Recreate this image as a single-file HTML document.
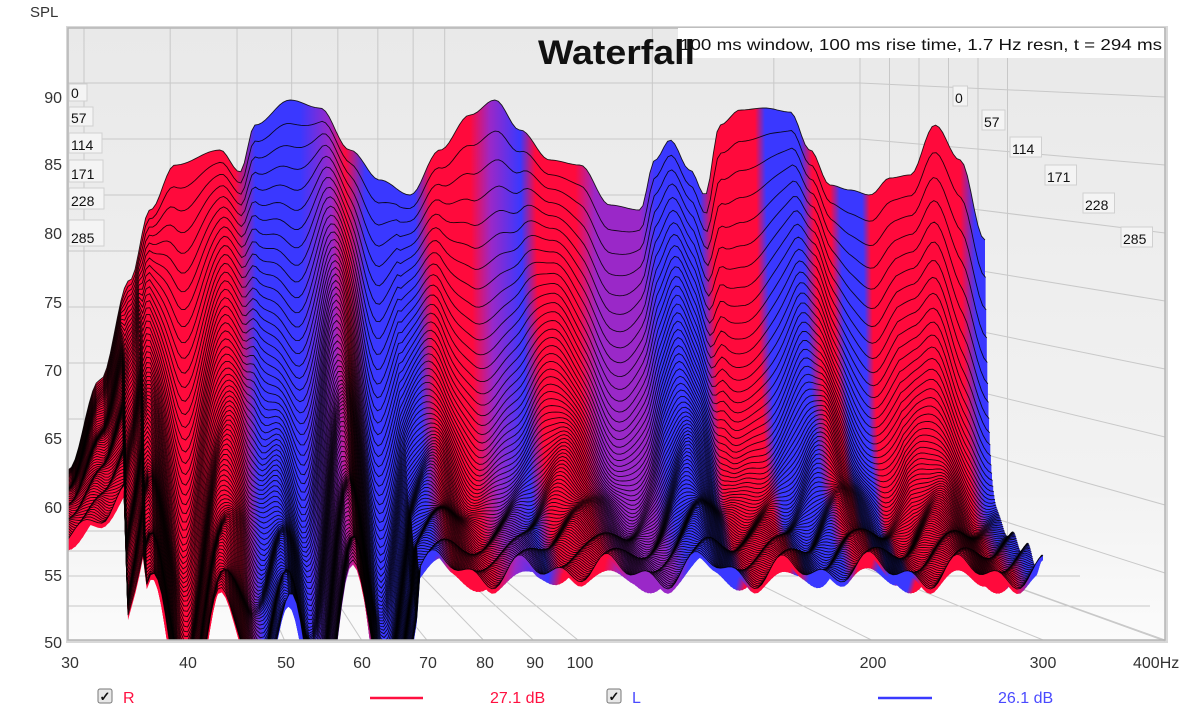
<!DOCTYPE html>
<html><head><meta charset="utf-8">
<style>
html,body{margin:0;padding:0;background:#fff;}
body{width:1200px;height:719px;overflow:hidden;font-family:"Liberation Sans",sans-serif;}
</style></head>
<body>
<svg id="s" width="1200" height="719" xmlns="http://www.w3.org/2000/svg" style="position:absolute;left:0;top:0">
<defs>
<linearGradient id="bg" x1="0" y1="0" x2="0" y2="1">
<stop offset="0" stop-color="#e9e9e9"/><stop offset="0.75" stop-color="#f2f2f2"/><stop offset="1" stop-color="#fbfbfb"/>
</linearGradient>
<clipPath id="pc"><rect x="68" y="28" width="1097" height="612"/></clipPath>
</defs>
<rect x="66" y="26" width="1102" height="617" fill="#d8d8d8"/>
<rect x="68" y="28" width="1097" height="612" fill="url(#bg)"/>
<g id="grid" stroke="#c8c8c8" stroke-width="1" fill="none"></g>
<g id="wf" clip-path="url(#pc)"></g>
<rect x="68" y="28" width="1097" height="612" fill="none" stroke="#b5b5b5" stroke-width="1.5"/>
<g id="lab" font-family="Liberation Sans, sans-serif"></g>
</svg>
<script>
(function(){
var NS="http://www.w3.org/2000/svg";
function el(n,a,p){var e=document.createElementNS(NS,n);for(var k in a)e.setAttribute(k,a[k]);if(p)p.appendChild(e);return e;}
var L30_400=Math.log(400/30);
var grid=document.getElementById('grid');
var freqs=[40,50,60,70,80,90,100,200,300];
for(var i=0;i<freqs.length;i++){
 var fr=Math.log(freqs[i]/30)/L30_400;
 var xb=84+fr*776, xf=68+fr*1097;
 el('line',{x1:xb,y1:28,x2:xb,y2:531},grid);
 el('line',{x1:xb,y1:531,x2:xf,y2:640},grid);
}
el('line',{x1:84,y1:28,x2:84,y2:531},grid);
el('line',{x1:860,y1:28,x2:860,y2:531},grid);
el('line',{x1:860,y1:531,x2:1165,y2:640},grid);
for(var k=0;k<9;k++){
 var yb=83+56*k, yf=97+68*k;
 el('line',{x1:68,y1:yb,x2:860,y2:yb},grid);
 el('line',{x1:860,y1:yb,x2:1165,y2:yf},grid);
}
for(var k=1;k<6;k++){
 var xs=860+k*29.5;
 var t=(xs-860)/305;
 el('line',{x1:xs,y1:28,x2:xs,y2:531+109*t},grid);
}
[[551,868],[576,930],[606,1000]].forEach(function(p){el('line',{x1:68,y1:p[0],x2:p[1]+150,y2:p[0]},grid);});

var env=[[68,470],[100,380],[130,280],[150,210],[175,165],[220,150],[240,172],[255,125],[290,100],[320,108],[350,150],[380,180],[410,195],[440,150],[470,115],[495,100],[520,130],[550,160],[580,165],[610,205],[640,210],[655,160],[670,140],[690,170],[705,195],[720,125],[740,110],[765,108],[790,112],[810,150],[830,185],[850,190],[870,195],[890,178],[910,175],[935,125],[960,160],[985,240]];
function D0(g){var x=68+g*917;
 for(var i=0;i<env.length-1;i++){if(x<=env[i+1][0]){var a=env[i],b=env[i+1];var u=(x-a[0])/(b[0]-a[0]);u=(1-Math.cos(Math.PI*u))/2;var y=a[1]+(b[1]-a[1])*u;return 50+(531-y)/11.2;}}
 return 50+(531-240)/11.2;}
function F(g){if(g<0.06)return 53;if(g<0.36)return 44+5*Math.sin(g*90);return 51+0.8*Math.sin(g*70);}
function R(g){var r;if(g<0.08)r=0.9;else if(g<0.36)r=2.2+0.8*Math.sin(g*60);else r=3.6+1.2*Math.sin(g*45);if(g>0.9)r+= (g-0.9)*40;return r;}
var R_="#ff0a3c",B_="#3a38ff",P_="#9a28c8";
var bands=[[68,R_],[235,R_],[255,B_],[300,B_],[330,P_],[345,R_],[365,B_],[415,B_],[430,R_],[470,R_],[490,P_],[520,B_],[535,R_],[575,R_],[595,P_],[640,P_],[655,B_],[700,B_],[712,R_],[755,R_],[765,B_],[800,B_],[812,R_],[830,R_],[840,B_],[862,B_],[870,R_],[960,R_],[975,B_],[985,B_]];
var wf=document.getElementById('wf');
var defs=document.querySelector('defs');
var N=100,M=260;
for(var s=0;s<N;s++){
 var t=s/(N-1);
 var TH=40*(1-t)+5;
 var W=917+58*t, Y0=531+55*t, sc=11.2+2.4*t;
 var gid='g'+s;
 var lg=el('linearGradient',{id:gid,gradientUnits:'userSpaceOnUse',x1:68,y1:0,x2:68+W,y2:0},defs);
 bands.forEach(function(b){el('stop',{offset:((b[0]-68)/917).toFixed(4),'stop-color':b[1]},lg);});
 var pts=[];
 for(var j=0;j<=M;j++){
  var g=j/M;
  var f=F(g), d0=D0(g);
  var v=f+(d0-f)*Math.exp(-R(g)*t*1.7)+1.3*t*Math.sin(g*140+t*25)*(1-0.5*t);
  if(v<40)v=40;
  pts.push([68+g*W, Y0-(v-50)*sc]);
 }
 var top='M'+pts[0][0].toFixed(1)+','+pts[0][1].toFixed(1);
 for(var j=1;j<pts.length;j++)top+=' L'+pts[j][0].toFixed(1)+','+pts[j][1].toFixed(1);
 var d=top;
 for(var j=pts.length-1;j>=0;j--)d+=' L'+pts[j][0].toFixed(1)+','+(pts[j][1]+TH).toFixed(1);
 d+=' Z';
 el('path',{d:d,fill:'url(#'+gid+')',stroke:'none'},wf);
 el('path',{d:top,fill:'none',stroke:'#000','stroke-width':'0.9','stroke-opacity':'0.85'},wf);
}
var lab=document.getElementById('lab');
function txt(x,y,s,o){var a={x:x,y:y,'font-size':o&&o.fs||15,fill:o&&o.fill||'#222'};if(o&&o.anchor)a['text-anchor']=o.anchor;if(o&&o.fw)a['font-weight']=o.fw;if(o&&o.tl){a.textLength=o.tl;a.lengthAdjust='spacingAndGlyphs';}var e=el('text',a,lab);e.textContent=s;return e;}
txt(30,17,'SPL',{fs:15,fill:'#333'});
var yl=[[90,103],[85,170],[80,239],[75,308],[70,376],[65,444],[60,513],[55,581],[50,648]];
yl.forEach(function(p){txt(62,p[1],String(p[0]),{anchor:'end',fs:16,fill:'#333'});});
var xl=[[30,70],[40,188],[50,286],[60,362],[70,428],[80,485],[90,535],[100,580],[200,873],[300,1043]];
xl.forEach(function(p){txt(p[1],668,String(p[0]),{anchor:'middle',fs:16,fill:'#333'});});
txt(1133,668,'400Hz',{fs:16,fill:'#333'});
function box(x,y,w,h,s){el('rect',{x:x,y:y,width:w,height:h,fill:'#f4f4f4',stroke:'#d0d0d0'},lab);txt(x+2,y+h-3,s,{fs:14,fill:'#111'});}
var lt=[['0',84,18,17],['57',107,24,19],['114',133,33,20],['171',160,34,22],['228',188,35,21],['285',220,35,26]];
lt.forEach(function(p){box(69,p[1],p[2],p[3],p[0]);});
var rt=[['0',953,86],['57',982,110],['114',1010,137],['171',1045,165],['228',1083,193],['285',1121,227]];
rt.forEach(function(p){box(p[1],p[2],p[0].length*8.5+6,20,p[0]);});
el('rect',{x:678,y:28,width:486,height:30,fill:'#fff'},lab);
txt(680,50,'100 ms window, 100 ms rise time,  1.7 Hz resn, t = 294 ms',{fs:16,fill:'#111',tl:482});
txt(538,64,'Waterfall',{fs:34,fw:'bold',fill:'#111',tl:157});
function cb(x,y){el('rect',{x:x,y:y,width:14,height:14,rx:2,fill:'#e8e8e8',stroke:'#777'},lab);txt(x+1.5,y+12,'✓',{fs:13,fw:'bold',fill:'#111'});}
cb(98,689);txt(123,703,'R',{fs:16,fill:'#ff1040'});
el('line',{x1:370,y1:698,x2:423,y2:698,stroke:'#ff1040','stroke-width':2.5},lab);
txt(490,703,'27.1 dB',{fs:16,fill:'#ff1040'});
cb(607,689);txt(632,703,'L',{fs:16,fill:'#4a4aff'});
el('line',{x1:878,y1:698,x2:932,y2:698,stroke:'#3a3aff','stroke-width':2.5},lab);
txt(998,703,'26.1 dB',{fs:16,fill:'#4a4aff'});
})();
</script>
</body></html>
